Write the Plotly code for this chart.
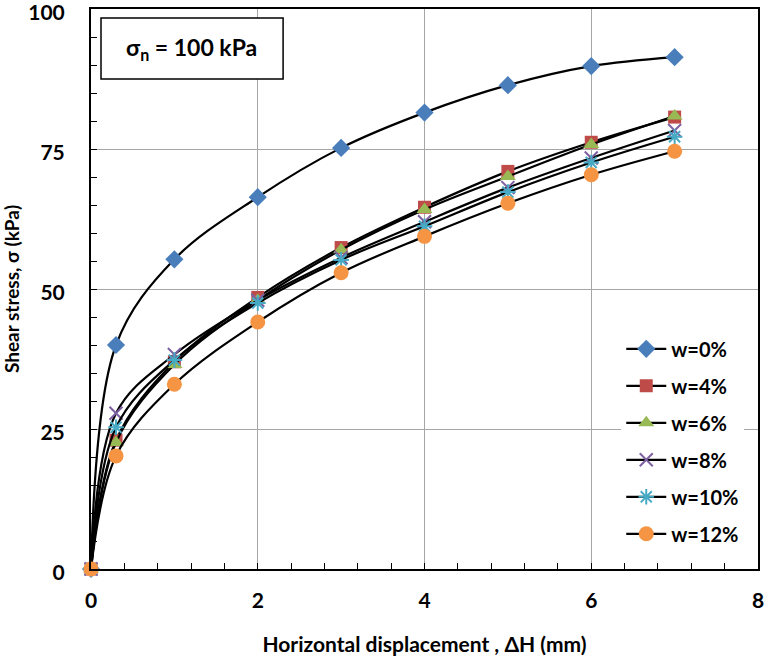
import plotly.graph_objects as go

# Data
disp = [0, 0.3, 1, 2, 3, 4, 5, 6, 7]
series_names = ["w=0%", "w=4%", "w=6%", "w=8%", "w=10%", "w=12%"]
w0 = [0, 40.0, 55.3, 66.4, 75.2, 81.5, 86.4, 89.8, 91.4]
w4 = [0, 23.0, 37.0, 48.5, 57.4, 64.6, 71.0, 76.2, 80.7]
w6 = [0, 22.6, 36.5, 48.0, 57.0, 64.2, 70.1, 75.8, 80.9]
w8 = [0, 27.8, 38.3, 48.0, 55.6, 62.0, 68.1, 73.4, 78.3]
w10 = [0, 25.3, 37.3, 47.5, 55.2, 61.2, 67.3, 72.6, 77.2]
w12 = [0, 20.2, 33.0, 44.1, 52.9, 59.4, 65.3, 70.4, 74.6]
values = [w0, w4, w6, w8, w10, w12]

x_tickvals = [0, 2, 4, 6, 8]
x_ticktext = ["0", "2", "4", "6", "8"]
y_tickvals = [0, 25, 50, 75, 100]
y_ticktext = ["0", "25", "50", "75", "100"]

colors = ["#4A7EBB", "#BE4B48", "#98B954", "#7D60A0", "#46AAC5", "#F59443"]
symbols = ["diamond", "square", "triangle-up", "x-thin", "asterisk", "circle"]
sizes = [14, 13, 14, 13, 13, 15]

FONT = "Lato"

fig = go.Figure()
for i, (name, ys) in enumerate(zip(series_names, values)):
    thin = symbols[i] in ("x-thin", "asterisk")
    fig.add_trace(go.Scatter(
        x=disp, y=ys, name=name, mode="lines+markers",
        legendgroup=name,
        line=dict(color="black", width=2.2, shape="spline", smoothing=1.0),
        marker=dict(symbol=symbols[i], size=sizes[i], color=colors[i],
                    line=dict(color=colors[i], width=2 if thin else 0)),
        cliponaxis=False,
    ))

fig.update_layout(
    width=764, height=658,
    margin=dict(l=91, r=6, t=9, b=89, autoexpand=False),
    paper_bgcolor="white", plot_bgcolor="white",
    font=dict(family=FONT, color="black", size=18),
    showlegend=True,
    legend=dict(x=0.795, y=0.428, xanchor="left", yanchor="top",
                bgcolor="white", borderwidth=0,
                font=dict(family=FONT, size=20, weight="bold"),
                tracegroupgap=8, itemwidth=40),
    xaxis=dict(range=[0, 8], tickmode="array", tickvals=x_tickvals,
               ticktext=["<b>%s</b>" % t for t in x_ticktext],
               automargin=False,
               showgrid=True, gridcolor="#A6A6A6", gridwidth=1,
               zeroline=False, showline=True, linecolor="black", linewidth=2,
               mirror=True, ticks="inside", ticklen=6, tickcolor="black",
               tickfont=dict(family=FONT, size=21),
               ticklabelstandoff=12, ticklabeloverflow="allow",
               minor=dict(dtick=0.4, tick0=0, ticks="inside", ticklen=6, tickcolor="black", showgrid=False),
               title=dict(text="<b>Horizontal displacement , ΔH (mm)</b>",
                          font=dict(family=FONT, size=21), standoff=26)),
    yaxis=dict(range=[0, 100], tickmode="array", tickvals=y_tickvals,
               ticktext=["<b>%s</b>" % t for t in y_ticktext],
               automargin=False,
               showgrid=True, gridcolor="#A6A6A6", gridwidth=1,
               zeroline=False, showline=True, linecolor="black", linewidth=2,
               mirror=True, ticks="inside", ticklen=6, tickcolor="black",
               tickfont=dict(family=FONT, size=21),
               ticklabelstandoff=20, ticklabeloverflow="allow",
               ticklabelshift=4,
               minor=dict(dtick=5, tick0=0, ticks="inside", ticklen=6, tickcolor="black", showgrid=False),
               title=dict(text="<b>Shear stress, σ (kPa)</b>",
                          font=dict(family=FONT, size=19), standoff=10)),
)

fig.add_shape(type="rect", xref="paper", yref="paper",
              x0=0.015, x1=0.288, y0=0.875, y1=0.984,
              line=dict(color="black", width=1.5), fillcolor="white")
fig.add_annotation(xref="paper", yref="paper", x=0.151, y=0.93,
                   xanchor="center", yanchor="middle",
                   text="<b>σ<sub>n</sub> = 100 kPa</b>", showarrow=False,
                   font=dict(family=FONT, size=23))

fig.write_html("out.html")
